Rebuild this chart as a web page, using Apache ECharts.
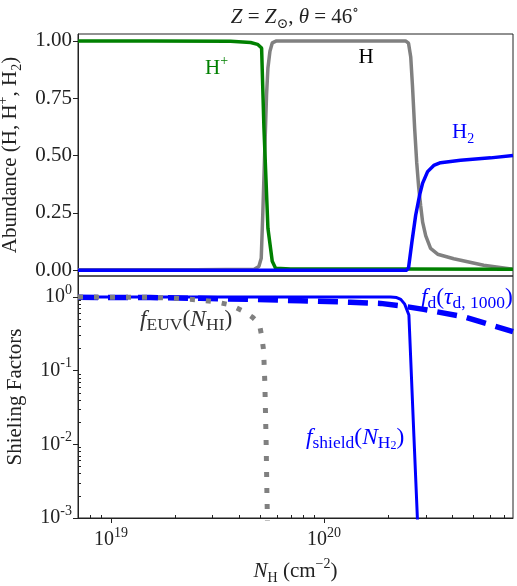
<!DOCTYPE html>
<html>
<head>
<meta charset="utf-8">
<script src="https://cdn.jsdelivr.net/npm/echarts@6/dist/echarts.min.js"></script>
<style>html,body{margin:0;padding:0;background:#fff;}#c{width:517px;height:586px;}</style>
</head>
<body>
<div id="c"></div>
<script>
// ---- data (N_H in cm^-2) ----
const hN      = [7.0e18, 2.5e19, 4.7e19, 4.94e19, 5.07e19, 5.16e19, 5.26e19, 5.37e19, 5.45e19, 5.57e19, 5.71e19, 5.98e19, 7.76e19, 2.41e20, 2.49e20, 2.55e20, 2.60e20, 2.66e20, 2.72e20, 2.78e20, 2.84e20, 2.90e20, 3.00e20, 3.16e20, 3.41e20, 4.06e20, 5.61e20, 7.7e20];
const hAbund  = [0.002, 0.002, 0.004, 0.016, 0.052, 0.256, 0.504, 0.766, 0.882, 0.955, 0.991, 1.0, 1.0, 1.0, 0.99, 0.93, 0.80, 0.62, 0.47, 0.36, 0.28, 0.21, 0.15, 0.095, 0.07, 0.05, 0.022, 0.005];

const hPlusN     = [7.0e18, 1.53e19, 3.64e19, 4.52e19, 4.87e19, 5.09e19, 5.22e19, 5.45e19, 5.71e19, 5.92e19, 6.96e19, 2.29e20, 7.7e20];
const hPlusAbund = [1.0, 1.0, 0.998, 0.993, 0.985, 0.969, 0.62, 0.183, 0.039, 0.009, 0.005, 0.005, 0.004];

const h2N     = [7.0e18, 2.44e20, 2.49e20, 2.58e20, 2.69e20, 2.81e20, 2.90e20, 3.06e20, 3.27e20, 3.52e20, 4.37e20, 6.05e20, 7.7e20];
const h2Abund = [0.0, 0.0, 0.01, 0.12, 0.24, 0.33, 0.38, 0.43, 0.457, 0.469, 0.48, 0.49, 0.50];

const shieldN = [7.0e18, 2.05e20, 2.19e20, 2.29e20, 2.39e20, 2.50e20, 2.64e20, 2.74e20, 2.79e20];
const shieldF = [1.0, 1.0, 0.985, 0.93, 0.80, 0.57, 0.0127, 0.001, 0.00026];

const dustN = [7.0e18, 1.53e19, 2.63e19, 4.52e19, 7.76e19, 1.33e20, 1.84e20, 2.29e20, 2.93e20, 4.52e20, 7.7e20];
const dustF = [0.99, 0.985, 0.96, 0.93, 0.89, 0.85, 0.82, 0.76, 0.68, 0.54, 0.34];

const euvN = [7.0e18, 1.53e19, 2.01e19, 2.63e19, 3.09e19, 3.64e19, 4.19e19, 4.62e19, 4.87e19, 5.01e19, 5.09e19, 5.20e19, 5.27e19, 5.31e19, 5.35e19, 5.39e19, 5.41e19, 5.44e19];
const euvF = [1.0, 0.99, 0.96, 0.91, 0.86, 0.78, 0.64, 0.53, 0.46, 0.38, 0.30, 0.19, 0.07, 0.026, 0.0095, 0.0022, 0.0013, 0.0005];

// ---- ticks ----
const xMajorTicks = [1e19, 1e20];
const xMinorTicks = [7e18, 8e18, 9e18, 2e19, 3e19, 4e19, 5e19, 6e19, 7e19, 8e19, 9e19, 2e20, 3e20, 4e20, 5e20, 6e20, 7e20];
const yTopTicks = [0, 0.25, 0.5, 0.75, 1.0];
const yBottomTicks = [1e-3, 1e-2, 1e-1, 1];
const yBottomMinor = [2e-3,3e-3,4e-3,5e-3,6e-3,7e-3,8e-3,9e-3,2e-2,3e-2,4e-2,5e-2,6e-2,7e-2,8e-2,9e-2,2e-1,3e-1,4e-1,5e-1,6e-1,7e-1,8e-1,9e-1];

const X_MIN = 7.0e18, X_MAX = 7.7e20;
const serif = '"Liberation Serif", "DejaVu Serif", serif';
const INK = '#222';

function pairs(xs, ys) { return xs.map((x, i) => [x, ys[i]]); }

function richSet(color, mainFs, subFs) {
  mainFs = mainFs || 21; subFs = subFs || 14;
  return {
    n:   {fontFamily: serif, fontSize: mainFs, lineHeight: 28, color: color, fill: color},
    i:   {fontFamily: serif, fontSize: mainFs, lineHeight: 28, fontStyle: 'italic', color: color, fill: color},
    sub: {fontFamily: serif, fontSize: subFs, lineHeight: 12, verticalAlign: 'bottom', color: color, fill: color},
    ssub:{fontFamily: serif, fontSize: 12, lineHeight: 6, verticalAlign: 'bottom', color: color, fill: color},
    sup: {fontFamily: serif, fontSize: subFs, lineHeight: 14, verticalAlign: 'top', color: color, fill: color}
  };
}
const powRich = {
  b: {fontFamily: serif, fontSize: 20, lineHeight: 28, color: INK},
  s: {fontFamily: serif, fontSize: 14, lineHeight: 12, verticalAlign: 'top', color: INK}
};
function powFmt(v) { return '{b|10}{s|' + Math.round(Math.log10(v)) + '}'; }

const chart = echarts.init(document.getElementById('c'), null, {renderer: 'canvas'});
const gridBase = {left: 78, right: 4, height: 242, show: true, borderColor: INK, borderWidth: 1,
  backgroundColor: 'transparent', containLabel: false, outerBoundsMode: 'none'};

const option = {
  animation: false,
  backgroundColor: '#fff',
  grid: [
    Object.assign({top: 34}, gridBase),
    Object.assign({top: 276}, gridBase)
  ],
  xAxis: [
    {type: 'log', gridIndex: 0, position: 'bottom', min: X_MIN, max: X_MAX, axisLine: {show: false}, axisTick: {show: false}, axisLabel: {show: false}, splitLine: {show: false}},
    {type: 'log', gridIndex: 1, position: 'bottom', min: X_MIN, max: X_MAX,
     axisLine: {show: true, lineStyle: {color: INK}},
     axisTick: {show: true, length: 5, lineStyle: {color: INK}, customValues: xMajorTicks},
     axisLabel: {customValues: xMajorTicks, formatter: powFmt, rich: powRich, margin: 8},
     splitLine: {show: false},
     name: '{i|N}{sub|H}{n| (cm}{sup|−2}{n|)}', nameLocation: 'middle', nameGap: 39,
     nameTextStyle: {rich: richSet(INK)}},
    {type: 'log', gridIndex: 1, position: 'bottom', offset: 0, min: X_MIN, max: X_MAX,
     axisLine: {show: false},
     axisTick: {show: true, inside: true, length: 3, lineStyle: {color: INK}, customValues: xMinorTicks},
     axisLabel: {show: false}, splitLine: {show: false}}
  ],
  yAxis: [
    {type: 'value', gridIndex: 0, position: 'left', min: -0.025, max: 1.03,
     axisLine: {show: true, lineStyle: {color: INK}},
     axisTick: {show: true, length: 5, lineStyle: {color: INK}, customValues: yTopTicks},
     axisLabel: {customValues: yTopTicks, formatter: v => v.toFixed(2), fontFamily: serif, fontSize: 21, color: INK, margin: 6},
     splitLine: {show: false},
     name: '{n|Abundance (H, H}{sup|+}{n|, H}{sub|2}{n|)}', nameLocation: 'middle', nameGap: 49,
     nameTextStyle: {rich: richSet(INK)}},
    {type: 'log', gridIndex: 1, position: 'left', min: 1e-3, max: 1.93,
     axisLine: {show: true, lineStyle: {color: INK}},
     axisTick: {show: true, length: 5, lineStyle: {color: INK}, customValues: yBottomTicks},
     axisLabel: {customValues: yBottomTicks, formatter: powFmt, rich: powRich, margin: 6},
     splitLine: {show: false},
     name: '{n|Shieling Factors}', nameLocation: 'middle', nameGap: 49,
     nameTextStyle: {rich: richSet(INK)}},
    {type: 'log', gridIndex: 1, position: 'left', offset: 0, min: 1e-3, max: 1.93,
     axisLine: {show: false},
     axisTick: {show: true, inside: true, length: 3, lineStyle: {color: INK}, customValues: yBottomMinor},
     axisLabel: {show: false}, splitLine: {show: false}}
  ],
  series: [
    {name: 'H', type: 'line', xAxisIndex: 0, yAxisIndex: 0, data: pairs(hN, hAbund), showSymbol: false,
     lineStyle: {color: '#808080', width: 3.5}, itemStyle: {color: '#808080'}},
    {name: 'H+', type: 'line', xAxisIndex: 0, yAxisIndex: 0, data: pairs(hPlusN, hPlusAbund), showSymbol: false,
     lineStyle: {color: '#008000', width: 3.5}, itemStyle: {color: '#008000'}},
    {name: 'H2', type: 'line', xAxisIndex: 0, yAxisIndex: 0, data: pairs(h2N, h2Abund), showSymbol: false,
     lineStyle: {color: '#0000ff', width: 3.5}, itemStyle: {color: '#0000ff'}},
    {name: 'f_shield', type: 'line', xAxisIndex: 1, yAxisIndex: 1, data: pairs(shieldN, shieldF), showSymbol: false, clip: true,
     lineStyle: {color: '#0000ff', width: 3}, itemStyle: {color: '#0000ff'}},
    {name: 'f_d', type: 'line', xAxisIndex: 1, yAxisIndex: 1, data: pairs(dustN, dustF), showSymbol: false, clip: true,
     lineStyle: {color: '#0000ff', width: 5.5, type: [20, 10], cap: 'butt'}, itemStyle: {color: '#0000ff'}},
    {name: 'f_EUV', type: 'line', xAxisIndex: 1, yAxisIndex: 1, data: pairs(euvN, euvF), showSymbol: false, clip: true,
     lineStyle: {color: '#808080', width: 5, type: [5, 11], cap: 'butt'}, itemStyle: {color: '#808080'}}
  ],
  graphic: [
    {type: 'text', x: 295, y: 17, style: {text: '{i|Z}{n| = }{i|Z}{sub|⊙}{n|, }{i|θ}{n| = 46}{sup|∘}', rich: richSet(INK), align: 'center', verticalAlign: 'middle'}},
    {type: 'text', x: 205, y: 68, style: {text: '{n|H}{sup|+}', rich: richSet('#008000'), align: 'left', verticalAlign: 'middle'}},
    {type: 'text', x: 366, y: 57, style: {text: '{n|H}', rich: richSet('#000000'), align: 'center', verticalAlign: 'middle'}},
    {type: 'text', x: 452, y: 132, style: {text: '{n|H}{sub|2}', rich: richSet('#0000ff'), align: 'left', verticalAlign: 'middle'}},
    {type: 'text', x: 140, y: 320, style: {text: '{i|f}{sub|EUV}{n|(}{i|N}{sub|HI}{n|)}', rich: richSet('#333333', 23.5, 17.5), align: 'left', verticalAlign: 'middle'}},
    {type: 'text', x: 421, y: 298, style: {text: '{i|f}{sub|d}{n|(}{i|τ}{sub|d, 1000}{n|)}', rich: richSet('#0000ff', 23.5, 17.5), align: 'left', verticalAlign: 'middle'}},
    {type: 'text', x: 306, y: 438, style: {text: '{i|f}{sub|shield}{n|(}{i|N}{sub|H}{ssub|2}{n|)}', rich: richSet('#0000ff', 23.5, 17.5), align: 'left', verticalAlign: 'middle'}}
  ]
};
chart.setOption(option);
</script>
</body>
</html>
